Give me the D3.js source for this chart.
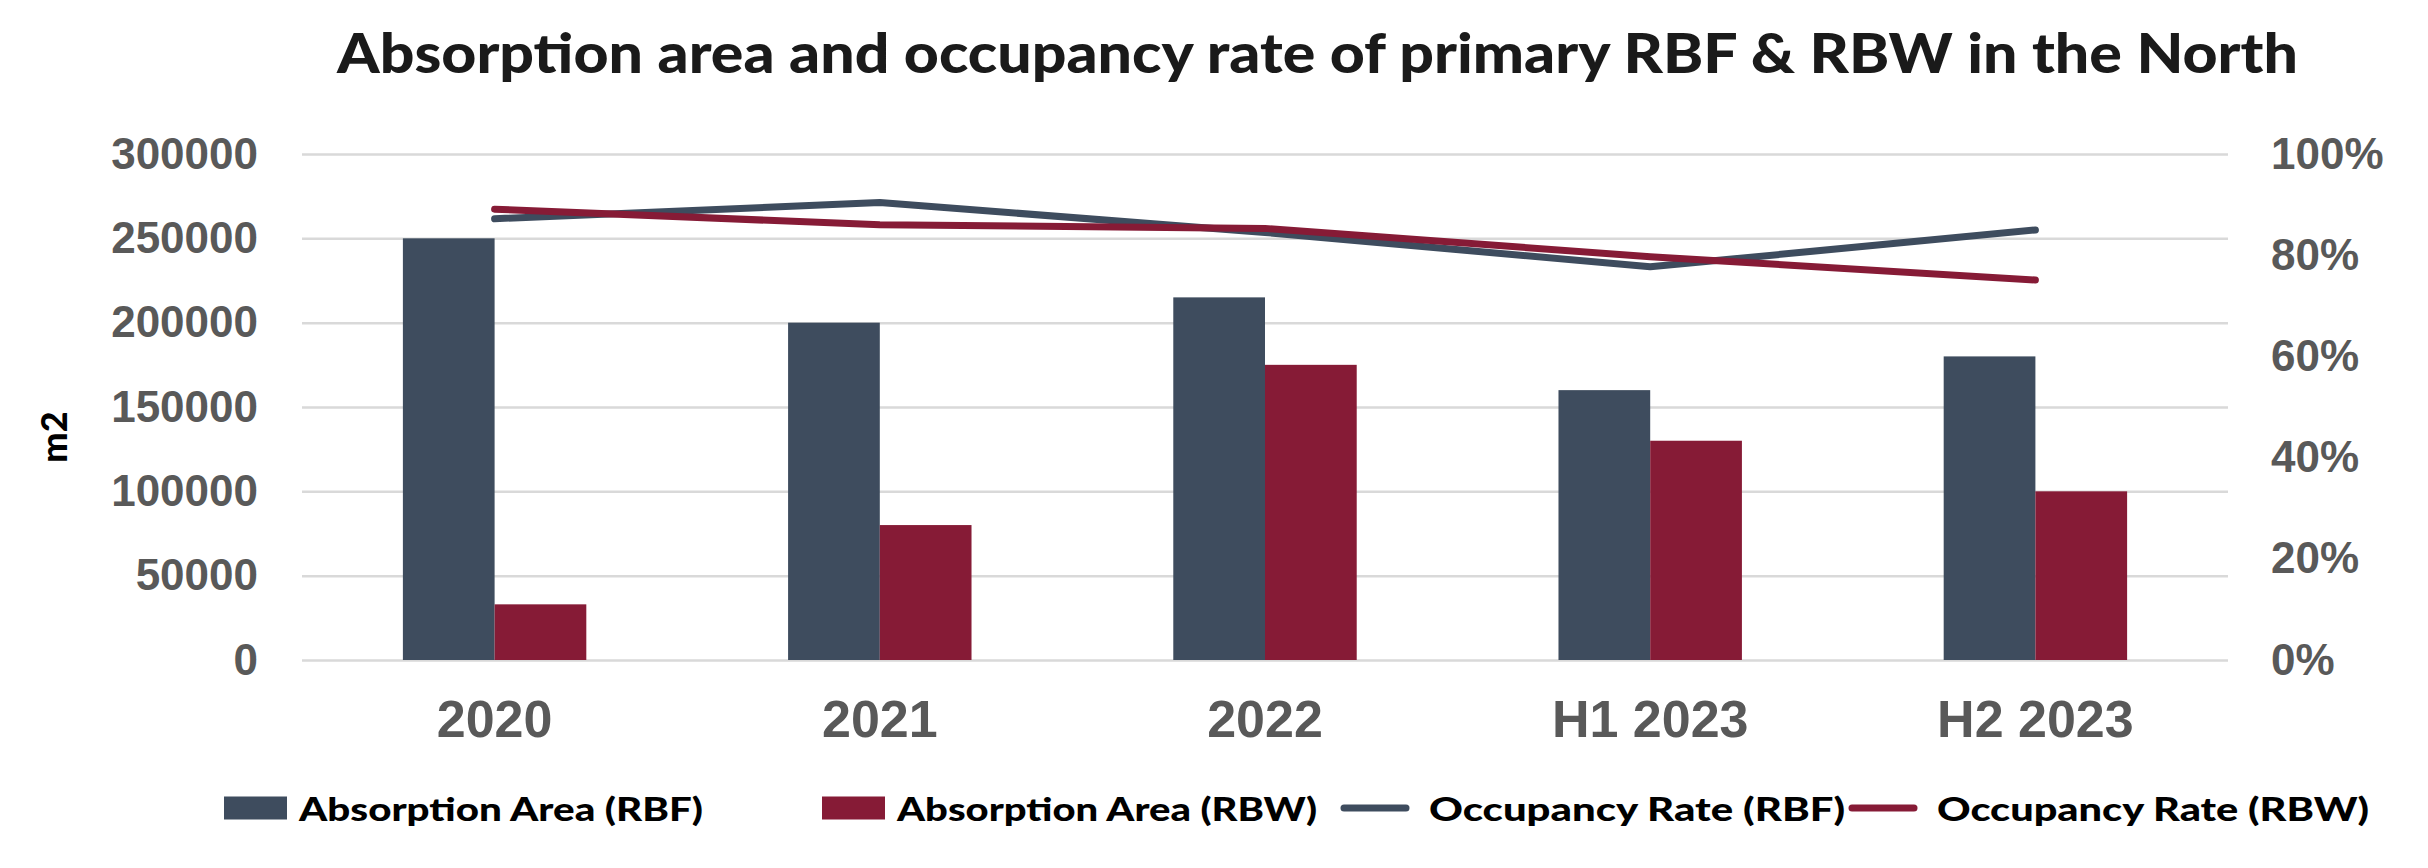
<!DOCTYPE html>
<html>
<head>
<meta charset="utf-8">
<script src="https://cdn.jsdelivr.net/npm/d3@7"></script>
<style>
  body { margin: 0; background: #fff; }
  svg text { font-family: "Liberation Sans", Arial, sans-serif; }
</style>
</head>
<body>
<div id="chart"></div>
<script>
// chart data
var categories = ["2020", "2021", "2022", "H1 2023", "H2 2023"];
var areaRBF = [250000, 200000, 215000, 160000, 180000];
var areaRBW = [33000, 80000, 175000, 130000, 100000];
var occRBF = [0.872, 0.904, 0.845, 0.777, 0.85];
var occRBW = [0.891, 0.86, 0.853, 0.797, 0.751];
var leftTicks = [0, 50000, 100000, 150000, 200000, 250000, 300000];
var rightTicks = [0, 0.2, 0.4, 0.6, 0.8, 1];
var legendLabels = ["Absorption Area (RBF)", "Absorption Area (RBW)", "Occupancy Rate (RBF)", "Occupancy Rate (RBW)"];

var colRBF = "#3e4c5e",
    colRBW = "#861b36";

var width = 2428, height = 868;
var margin = {top: 154, right: 200, bottom: 208, left: 302};

var svg = d3.select("#chart").append("svg")
    .attr("width", width)
    .attr("height", height);

var plotW = width - margin.left - margin.right,
    plotH = height - margin.top - margin.bottom;

var g = svg.append("g")
    .attr("transform", "translate(" + margin.left + "," + margin.top + ")");

var x0 = d3.scaleBand().domain(categories).range([0, plotW]).padding(0);
var x1 = d3.scaleBand().domain(["rbf", "rbw"]).range([0, x0.bandwidth()])
    .paddingInner(0).paddingOuter(1.1);
var yL = d3.scaleLinear().domain([0, 300000]).range([plotH, 0]);
var yR = d3.scaleLinear().domain([0, 1]).range([plotH, 0]);

// gridlines
g.append("g")
    .attr("class", "grid")
    .call(d3.axisLeft(yL).tickValues(leftTicks).tickSize(-plotW).tickFormat(""))
    .call(function(s) {
        s.select(".domain").remove();
        s.selectAll("line").attr("stroke", "#d9d9d9").attr("stroke-width", 2.5);
    });

// left axis labels
g.append("g")
    .call(d3.axisLeft(yL).tickValues(leftTicks).tickSize(0).tickPadding(44).tickFormat(d3.format("d")))
    .call(function(s) {
        s.select(".domain").remove();
        s.selectAll("text")
            .attr("fill", "#595959")
            .style("font-size", "44px")
            .style("font-weight", "bold");
    });

// right axis labels
g.append("g")
    .attr("transform", "translate(" + plotW + ",0)")
    .call(d3.axisRight(yR).tickValues(rightTicks).tickSize(0).tickPadding(43).tickFormat(d3.format(".0%")))
    .call(function(s) {
        s.select(".domain").remove();
        s.selectAll("text")
            .attr("fill", "#595959")
            .style("font-size", "44px")
            .style("font-weight", "bold");
    });

// category labels
g.append("g")
    .attr("transform", "translate(0," + plotH + ")")
    .call(d3.axisBottom(x0).tickSize(0).tickPadding(40))
    .call(function(s) {
        s.select(".domain").remove();
        s.selectAll("text")
            .attr("fill", "#595959")
            .style("font-size", "52px")
            .style("font-weight", "bold");
    });

// bars
var rows = categories.map(function(c, i) {
    return {cat: c, rbf: areaRBF[i], rbw: areaRBW[i]};
});

var groups = g.selectAll(".grp")
    .data(rows)
    .enter().append("g")
    .attr("class", "grp")
    .attr("transform", function(d) { return "translate(" + x0(d.cat) + ",0)"; });

groups.selectAll("rect")
    .data(function(d) {
        return [{key: "rbf", v: d.rbf, c: colRBF}, {key: "rbw", v: d.rbw, c: colRBW}];
    })
    .enter().append("rect")
    .attr("x", function(d) { return x1(d.key); })
    .attr("width", x1.bandwidth())
    .attr("y", function(d) { return yL(d.v); })
    .attr("height", function(d) { return plotH - yL(d.v); })
    .attr("fill", function(d) { return d.c; });

// occupancy lines
var line = d3.line()
    .x(function(d, i) { return x0(categories[i]) + x0.bandwidth() / 2; })
    .y(function(d) { return yR(d); });

[[occRBF, colRBF], [occRBW, colRBW]].forEach(function(s) {
    g.append("path")
        .datum(s[0])
        .attr("d", line)
        .attr("fill", "none")
        .attr("stroke", s[1])
        .attr("stroke-width", 7)
        .attr("stroke-linecap", "round")
        .attr("stroke-linejoin", "round");
});

// title
svg.append("text")
    .attr("x", 337)
    .attr("y", 73)
    .attr("textLength", 1961)
    .attr("lengthAdjust", "spacingAndGlyphs")
    .style("font-family", "Lato, sans-serif")
    .style("font-weight", "900")
    .style("font-size", "56px")
    .attr("fill", "#1a1a1a")
    .text("Absorption area and occupancy rate of primary RBF & RBW in the North");

// y axis title
svg.append("text")
    .attr("transform", "translate(53,437) rotate(-90)")
    .attr("text-anchor", "middle")
    .attr("dominant-baseline", "central")
    .style("font-family", "Lato, sans-serif")
    .style("font-weight", "900")
    .style("font-size", "36px")
    .attr("fill", "#000")
    .text("m2");

// legend
var legendX = [224, 822, 1342, 1850];
var legendTextW = [404, 420, 416, 432];
var legendY = 808;
var legendKinds = [
    {type: "rect", color: colRBF},
    {type: "rect", color: colRBW},
    {type: "line", color: colRBF},
    {type: "line", color: colRBW}
];

var leg = svg.selectAll(".leg")
    .data(legendLabels)
    .enter().append("g")
    .attr("class", "leg")
    .attr("transform", function(d, i) { return "translate(" + legendX[i] + "," + legendY + ")"; });

leg.each(function(d, i) {
    var el = d3.select(this);
    var k = legendKinds[i];
    var tx = 75;
    if (k.type === "rect") {
        el.append("rect")
            .attr("x", 0).attr("y", -11.5)
            .attr("width", 63).attr("height", 23)
            .attr("fill", k.color);
    } else {
        el.append("line")
            .attr("x1", 2).attr("x2", 64)
            .attr("y1", 0).attr("y2", 0)
            .attr("stroke", k.color)
            .attr("stroke-width", 7)
            .attr("stroke-linecap", "round");
        tx = 87;
    }
    el.append("text")
        .attr("x", tx)
        .attr("y", 0)
        .attr("dominant-baseline", "central")
        .attr("textLength", legendTextW[i])
        .attr("lengthAdjust", "spacingAndGlyphs")
        .style("font-family", "Lato, sans-serif")
        .style("font-weight", "900")
        .style("font-size", "33px")
        .attr("fill", "#000")
        .text(d);
});
</script>
</body>
</html>
